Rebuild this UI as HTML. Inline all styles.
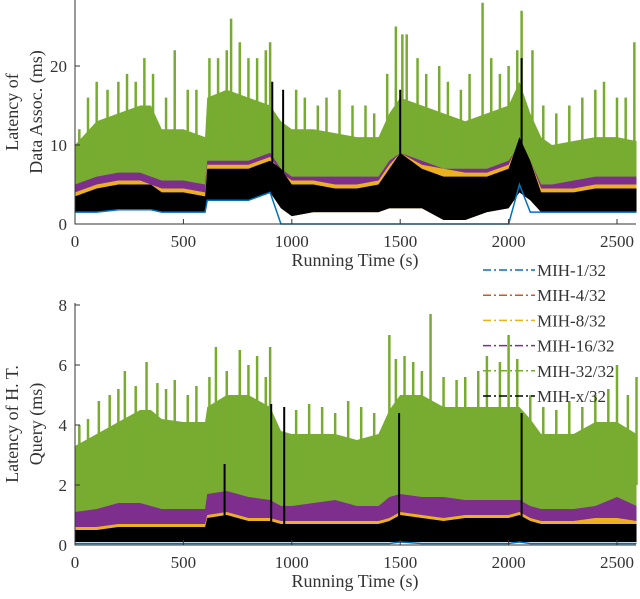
<!DOCTYPE html>
<html><head><meta charset="utf-8"><style>
body{margin:0;background:#fff;}
svg{display:block;}
text{font-family:"Liberation Serif","DejaVu Serif",serif;}
</style></head><body>
<svg id="c" width="640" height="599" viewBox="0 0 640 599"></svg>
<script>
const times=[0,100,200,300,350,400,500,600,610,700,800,900,950,1000,1100,1200,1300,1400,1450,1500,1600,1700,1800,1900,2000,2050,2100,2150,2200,2300,2400,2500,2590];
// top panel (data association latency, ms)
const topGreenHi=[10,13,14,15,15,12,12,11,16,17,16,15,13,12,12,11.5,11,11,14,16,15,14,13,14,15,18,14,11,10,10.5,11,11,10.5];
const topGreenLo=[5,5,5,5,5,4,4,4,6,6,6,6,5,5,4,4,4,4,5,5,5,5,5,5,5,7,6,4,4,4,4,4,4];
const topPurpleHi=[5,6,6.5,6.5,6,5.5,5.5,5,8,8,8,9,7,6,6,6,6,6,8,9,8,7,7,7,8,10,8,5,5,5.5,6,6,6];
const topOrangeHi=[4,5,5.5,5.5,5,4.5,4.5,4,7.5,7.5,7.5,8.5,6.5,5.5,5.5,5,5,5.5,7.5,9,7.5,7,6.5,6.5,7.5,10.5,8,4.5,4.5,4.5,5,5,5];
const topBlackHi=[3.5,4.5,5,5,5,4,4,3.5,7,7,7,8,7,5,5,4.5,4.5,5,7,9,7,6,6,6,7,11,8,4,4,4,4.5,4.5,4.5];
const topBlackLo=[1.5,1.5,1.8,1.8,1.8,1.5,1.5,1.5,3,3,3,4,2,1,1.5,1.5,1.5,1.5,2,2,2,0.5,0.5,1.5,2,4,3,1.5,1.5,1.5,1.5,1.5,1.5];
const topBlue=[1.5,1.5,1.8,1.8,1.8,1.5,1.5,1.5,3,3,3,4,0,0,0,0,0,0,0,0,0,0,0,0,0,5,1.5,1.5,1.5,1.5,1.5,1.5,1.5];
const topGreenSpikeT=[20,60,100,150,200,240,280,320,360,420,460,520,560,620,660,700,720,760,800,840,880,900,1020,1060,1120,1160,1220,1280,1340,1380,1440,1480,1510,1530,1580,1620,1680,1720,1780,1820,1880,1920,1960,2000,2040,2060,2110,2160,2220,2280,2340,2400,2440,2500,2540,2580];
const topGreenSpikeV=[12,16,18,17,18,19,18,21,19,16,22,17,17,21,21,22,26,23,21,21,22,23,17,16,15,16,17,15,15,14,19,25,24,24,21,19,20,18,17,19,28,21,19,20,22,27,22,15,14,15,16,17,18,16,16,23];
const topBlackSpikeT=[910,960,1500,2060];
const topBlackSpikeV=[18,17,17,21];
const topTicks=[0,10,20];
// bottom panel (hash table query latency, ms)
const botGreenHi=[3.3,3.7,4.1,4.5,4.5,4.2,4.1,4.1,4.6,5,5,4.6,3.8,3.7,3.7,3.7,3.5,3.7,4.5,5,5,4.6,4.6,4.6,4.6,4.6,4.2,3.7,3.7,3.7,4.1,4.1,3.7];
const botGreenLo=[1,1,1,1,1,1,1,1,1,1,1,1,1,1,1,1,1,1,1,1,1,1,1,1,1,1,1,1,1,1,1,1,1];
const botPurpleHi=[1.1,1.2,1.4,1.4,1.3,1.2,1.2,1.2,1.7,1.8,1.6,1.5,1.3,1.3,1.4,1.5,1.3,1.3,1.6,1.7,1.6,1.6,1.5,1.5,1.5,1.5,1.3,1.2,1.2,1.2,1.3,1.6,1.3];
const botOrangeHi=[0.6,0.6,0.7,0.7,0.7,0.7,0.7,0.7,1,1.1,0.9,0.9,0.8,0.8,0.8,0.8,0.8,0.8,0.9,1.1,1,0.9,1,1,1,1.1,0.9,0.8,0.8,0.8,0.9,0.9,0.8];
const botBlackHi=[0.5,0.5,0.6,0.6,0.6,0.6,0.6,0.6,0.9,1,0.8,0.8,0.7,0.7,0.7,0.7,0.7,0.7,0.8,1,0.9,0.8,0.9,0.9,0.9,1,0.8,0.7,0.7,0.7,0.7,0.7,0.7];
const botBlackLo=[0.1,0.1,0.1,0.1,0.1,0.1,0.1,0.1,0.1,0.1,0.1,0.1,0.1,0.1,0.1,0.1,0.1,0.1,0.1,0.1,0.1,0.1,0.1,0.1,0.1,0.1,0.1,0.1,0.1,0.1,0.1,0.1,0.1];
const botBlue=[0.05,0.05,0.05,0.05,0.05,0.05,0.05,0.05,0.05,0.05,0.05,0.05,0.05,0.05,0.05,0.05,0.05,0.05,0.05,0.1,0.05,0.05,0.05,0.05,0.05,0.1,0.05,0.05,0.05,0.05,0.05,0.05,0.05];
const botGreenSpikeT=[20,60,110,160,200,230,280,330,380,420,460,520,560,620,650,700,760,800,840,880,900,1020,1080,1140,1200,1260,1320,1380,1450,1480,1520,1560,1600,1640,1700,1760,1800,1860,1900,1960,2000,2040,2100,2160,2220,2280,2340,2400,2460,2500,2550,2590];
const botGreenSpikeV=[4,4.2,4.8,5,5.2,5.8,5.3,6.1,5.4,5.2,5.5,5,5.3,5.6,6.6,5.8,6.5,6,6.3,5.6,6.6,4.5,4.7,4.6,4.4,4.8,4.6,4.4,7,6.2,6.3,6.1,5.8,7.7,5.6,5.5,5.6,5.8,6.3,6.1,7,6.2,5,4.6,4.5,4.8,4.6,5,5.2,6,5,5.6];
const botBlackSpikeT=[690,905,965,1495,2060];
const botBlackSpikeV=[2.7,4.7,4.6,4.4,4.4];
const botTicks=[0,2,4,6,8];
const xTicks=[0,500,1000,1500,2000,2500];
const legendLabels=["MIH-1/32","MIH-4/32","MIH-8/32","MIH-16/32","MIH-32/32","MIH-x/32"];
const legendColors=["#0072BD","#D95319","#EDB120","#7E2F8E","#77AC30","#000000"];

const NS="http://www.w3.org/2000/svg";
const svg=document.getElementById('c');
function mk(tag,attrs,parent){const e=document.createElementNS(NS,tag);for(const k in attrs)e.setAttribute(k,attrs[k]);(parent||svg).appendChild(e);return e;}
const X0=75,X1=636;
const xs=t=>X0+t/2500*(617-X0);
const FF='"Liberation Serif","DejaVu Serif",serif';

function panel(p){
  const g=mk('g',{});
  
  
  const ys=v=>p.y0-v*p.k;
  function band(hi,lo,color,nm){
    let pts=times.map((t,i)=>xs(t)+','+ys(hi[i]));
    pts=pts.concat(times.slice().reverse().map((t,j)=>{const i=times.length-1-j;return xs(t)+','+ys(lo[i]);}));
    const e=mk('polygon',{points:pts.join(' '),fill:color},g);
    
    
  }
  function spikes(T,V,base,color,w,nm){
    T.forEach((t,i)=>{const e=mk('line',{x1:xs(t),x2:xs(t),y1:ys(base),y2:ys(V[i]),stroke:color,'stroke-width':w},g);
      
      });
  }
  band(p.gHi,p.bLo,'#77AC30',p.name+'-mih-32-band');
  spikes(p.gsT,p.gsV,p.gsBase,'#77AC30',2.5,p.name+'-mih-32-spike');
  band(p.pHi,p.bLo,'#7E2F8E',p.name+'-mih-16-band');
  band(p.oHi,p.bLo,'#EDB120',p.name+'-mih-8-band');
  band(p.bHi,p.bLo,'#000000',p.name+'-mih-x-band');
  spikes(p.bsT,p.bsV,p.bsBase,'#000000',2,p.name+'-mih-x-spike');
  const bl=mk('polyline',{points:times.map((t,i)=>xs(t)+','+ys(p.blue[i])).join(' '),fill:'none',stroke:'#0072BD','stroke-width':1.5},g);
  
  
  const ax=mk('path',{d:`M${X0},${p.top}V${p.y0}H${X1}`,fill:'none',stroke:'#333','stroke-width':1},g);
  
  
  p.ticks.forEach(v=>{
    mk('line',{x1:X0,x2:X0+5,y1:ys(v),y2:ys(v),stroke:'#333'},g);
    const t=mk('text',{x:X0-8,y:ys(v)+6,'text-anchor':'end','font-size':17,fill:'#333','font-family':FF},g);
    t.textContent=v;
    
    
  });
  xTicks.forEach(v=>{
    mk('line',{x1:xs(v),x2:xs(v),y1:p.y0,y2:p.y0-5,stroke:'#333'},g);
    const t=mk('text',{x:xs(v),y:p.y0+23,'text-anchor':'middle','font-size':17,fill:'#333','font-family':FF},g);
    t.textContent=v;
    
    
  });
  const xl=mk('text',{x:355,y:p.y0+42,'text-anchor':'middle','font-size':18,fill:'#333','font-family':FF},g);
  xl.textContent='Running Time (s)';
  
  
  const cy=(p.top+p.y0)/2;
  p.ylab.forEach((s,i)=>{
    const t=mk('text',{x:0,y:0,'text-anchor':'middle','font-size':18,fill:'#333','font-family':FF,transform:`translate(${18+i*24},${cy}) rotate(-90)`},g);
    t.textContent=s;
    
    
  });
}
panel({name:'top-panel',y0:224,k:7.9,top:0,gHi:topGreenHi,pHi:topPurpleHi,oHi:topOrangeHi,bHi:topBlackHi,bLo:topBlackLo,blue:topBlue,
  gsT:topGreenSpikeT,gsV:topGreenSpikeV,gsBase:8,bsT:topBlackSpikeT,bsV:topBlackSpikeV,bsBase:4,ticks:topTicks,ylab:['Latency of','Data Assoc. (ms)']});
panel({name:'bottom-panel',y0:545,k:30,top:303,gHi:botGreenHi,pHi:botPurpleHi,oHi:botOrangeHi,bHi:botBlackHi,bLo:botBlackLo,blue:botBlue,
  gsT:botGreenSpikeT,gsV:botGreenSpikeV,gsBase:2,bsT:botBlackSpikeT,bsV:botBlackSpikeV,bsBase:0.5,ticks:botTicks,ylab:['Latency of H. T.','Query (ms)']});

const lg=mk('g',{});


legendLabels.forEach((s,i)=>{
  const y=270+i*25.2;
  mk('line',{x1:483,x2:535,y1:y,y2:y,stroke:legendColors[i],'stroke-width':1.5,'stroke-dasharray':'8 3 2 3'},lg);
  const t=mk('text',{x:537,y:y+6,'font-size':17,fill:'#333','font-family':FF},lg);
  t.textContent=s;
  
  
});
</script>
</body></html>
